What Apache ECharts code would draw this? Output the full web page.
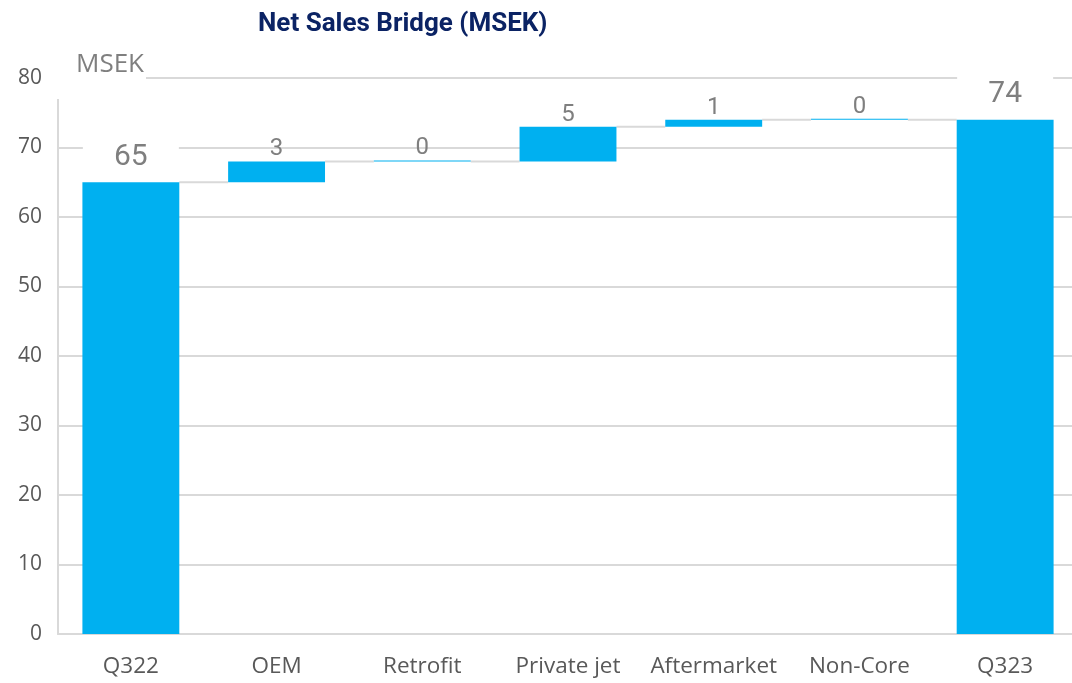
<!DOCTYPE html>
<html>
<head>
<meta charset="utf-8">
<script src="https://cdn.jsdelivr.net/npm/echarts@6/dist/echarts.min.js"></script>
<style>
  html, body { margin: 0; padding: 0; background: #fff; overflow: hidden; }
  #chart { width: 1078px; height: 683px; }
</style>
</head>
<body>
<div id="chart"></div>
<script>
// bridge data
var categories = ['Q322', 'OEM', 'Retrofit', 'Private jet', 'Aftermarket', 'Non-Core', 'Q323'];
var values = [65, 3, 0, 5, 1, 0, 74];
var isTotal = [true, false, false, false, false, false, true];
var yTicks = [0, 10, 20, 30, 40, 50, 60, 70, 80];

var barColor = '#00b0f0';
var gridColor = '#d9d9d9';

// invisible base + visible part, and the running level after each bar
var base = [], shown = [], level = [];
var running = 0;
for (var i = 0; i < values.length; i++) {
    if (isTotal[i]) {
        base.push(0);
        running = values[i];
    } else {
        base.push(running);
        running = running + values[i];
    }
    shown.push({
        value: values[i],
        label: isTotal[i] ? {
            fontSize: 30, distance: 6, backgroundColor: '#fff',
            width: 96, align: 'center', padding: [5, 0, 4, 0]
        } : { fontSize: 24, distance: 0 }
    });
    level.push(running);
}

var connectors = [];
for (var j = 0; j < categories.length - 1; j++) {
    connectors.push([j, level[j]]);
}

var chart = echarts.init(document.getElementById('chart'));
chart.setOption({
    animation: false,
    title: {
        text: 'Net Sales Bridge (MSEK)',
        left: 253,
        top: 6,
        textStyle: { fontFamily: 'Roboto', fontWeight: 'bold', fontSize: 26, color: '#0b2364' }
    },
    grid: { left: 58, right: 0, top: 78, bottom: 49, containLabel: false },
    xAxis: {
        type: 'category',
        data: categories,
        axisLine: { lineStyle: { color: gridColor, width: 2 } },
        axisTick: { show: false },
        axisLabel: { color: '#595959', fontFamily: 'Open Sans', fontSize: 22.5, margin: 21, interval: 0 }
    },
    yAxis: {
        type: 'value',
        min: 0,
        max: 80,
        interval: 10,
        axisLine: { show: true, lineStyle: { color: gridColor, width: 2 } },
        axisTick: { show: false },
        axisLabel: {
            color: '#595959', fontFamily: 'Open Sans', fontSize: 21, margin: 16,
            padding: [6, 0, 0, 0],
            formatter: function (v) { return yTicks.indexOf(v) >= 0 ? String(v) : ''; }
        },
        splitLine: { lineStyle: { color: gridColor, width: 2 } }
    },
    graphic: [{
        type: 'rect',
        left: 50, top: 50, z: 100,
        shape: { width: 96, height: 49 },
        style: { fill: '#fff' }
    }, {
        type: 'text',
        left: 76, top: 52, z: 101,
        style: { text: 'MSEK', fill: '#7f7f7f', font: '26px "Open Sans"' }
    }],
    series: [{
        type: 'bar',
        stack: 'bridge',
        data: base,
        barWidth: '66.5%',
        itemStyle: { color: 'transparent' },
        emphasis: { disabled: true },
        silent: true
    }, {
        type: 'bar',
        stack: 'bridge',
        data: shown,
        barWidth: '66.5%',
        barMinHeight: 1,
        itemStyle: { color: barColor },
        label: {
            show: true,
            position: 'top',
            color: '#7f7f7f',
            fontFamily: 'Roboto'
        },
        z: 3
    }, {
        type: 'custom',
        data: connectors,
        silent: true,
        z: 1,
        renderItem: function (params, api) {
            var p1 = api.coord([api.value(0), api.value(1)]);
            var p2 = api.coord([api.value(0) + 1, api.value(1)]);
            var half = api.size([1, 0])[0] * 0.665 / 2;
            return {
                type: 'line',
                shape: { x1: p1[0] + half, y1: p1[1], x2: p2[0] - half, y2: p2[1] },
                style: { stroke: gridColor, lineWidth: 2 }
            };
        }
    }]
});
</script>
</body>
</html>
